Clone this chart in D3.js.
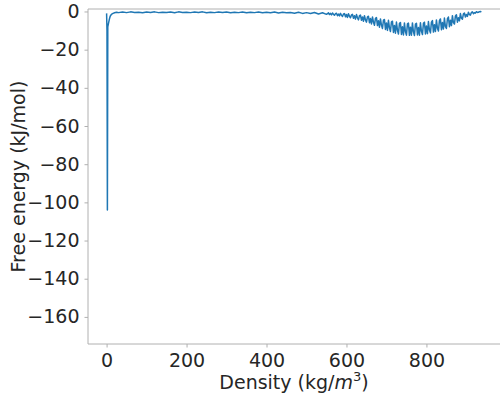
<!DOCTYPE html>
<html>
<head>
<meta charset="utf-8">
<script src="https://cdn.jsdelivr.net/npm/d3@7"></script>
<style>
body{margin:0;background:#fff;}
svg text{font-family:"DejaVu Sans",sans-serif;fill:#262626;}
</style>
</head>
<body>
<div id="chart"></div>
<script>
// density (kg/m3) and free energy (kJ/mol)
var density=[0,1,2,3,5,7,9,12,16,20,25,30,
	40,50,60,70,80,90,100,110,120,130,140,150,160,170,180,190,200,210,220,230,240,250,
	260,270,280,290,300,310,320,330,340,350,360,370,380,390,400,410,420,430,440,450,
	460,470,480,490,500,510,520,530,540,550,
	555,557.5,560,562.5,565,567.5,570,572.5,575,577.5,580,582.5,585,587.5,590,592.5,595,597.5,
	600,602.5,605,607.5,610,612.5,615,617.5,620,622.5,625,627.5,630,632.5,635,637.5,640,642.5,645,647.5,
	650,652.5,655,657.5,660,662.5,665,667.5,670,672.5,675,677.5,680,682.5,685,687.5,690,692.5,695,697.5,
	700,702.5,705,707.5,710,712.5,715,717.5,720,722.5,725,727.5,730,732.5,735,737.5,740,742.5,745,747.5,
	750,752.5,755,757.5,760,762.5,765,767.5,770,772.5,775,777.5,780,782.5,785,787.5,790,792.5,795,797.5,
	800,802.5,805,807.5,810,812.5,815,817.5,820,822.5,825,827.5,830,832.5,835,837.5,840,842.5,845,847.5,
	850,852.5,855,857.5,860,862.5,865,867.5,870,872.5,875,877.5,880,882.5,885,887.5,890,892.5,895,897.5,
	900,902.5,905,907.5,910,912.5,915,917.5,920,922.5,925,927.5,930,932.5,935,937.5];
var freeEnergy=[-1,-10,-104,-8,-6,-4,-2.5,-1.5,-1,-0.7,-0.4,-0.6,
	-0.3,-0.6,-0.2,-0.5,-0.4,-0.7,-0.3,-0.5,-0.2,-0.6,-0.4,-0.5,-0.3,-0.7,-0.2,-0.5,-0.4,-0.6,-0.3,-0.5,-0.2,-0.7,
	-0.4,-0.6,-0.3,-0.5,-0.3,-0.7,-0.4,-0.6,-0.3,-0.7,-0.4,-0.6,-0.3,-0.7,-0.4,-0.7,-0.3,-0.8,-0.4,-0.7,
	-0.5,-0.9,-0.4,-1.0,-0.6,-1.1,-0.5,-1.3,-0.7,-1.5,
	-0.7,-1.6,-1.0,-1.8,-0.8,-1.5,-2.0,-1.1,-0.9,-2.2,-1.4,-2.3,-1.0,-1.9,-2.6,-1.3,-1.1,-2.8,
	-1.6,-3.1,-1.2,-2.5,-3.3,-1.8,-1.5,-3.6,-2.2,-4.0,-1.6,-3.3,-4.4,-2.2,-1.9,-4.6,-2.9,-5.1,-2.2,-4.4,
	-5.6,-2.8,-2.5,-5.9,-3.7,-6.5,-2.9,-5.6,-7.2,-3.6,-3.2,-7.4,-4.8,-8.2,-3.9,-7.1,-8.9,-4.5,-4.2,-9.4,
	-6.0,-9.9,-4.6,-8.6,-10.5,-5.4,-5.1,-11.0,-7.3,-11.4,-5.5,-9.9,-11.8,-6.2,-5.8,-12.0,-8.0,-12.3,-6.0,-10.6,
	-12.4,-6.5,-6.1,-12.5,-8.2,-12.4,-6.0,-10.7,-12.6,-6.6,-6.2,-12.3,-8.4,-12.4,-5.9,-10.4,-12.1,-6.2,-5.6,-11.8,
	-7.6,-11.6,-5.3,-9.7,-11.2,-5.6,-4.8,-10.8,-6.9,-10.5,-4.4,-8.8,-10.2,-4.8,-3.9,-9.6,-5.8,-9.2,-3.4,-7.9,
	-8.9,-3.8,-2.9,-8.0,-4.6,-7.4,-2.2,-5.8,-6.6,-2.3,-1.7,-5.6,-3.3,-4.9,-1.1,-3.5,-4.0,-1.2,-0.8,-2.9,
	-1.6,-2.6,-0.4,-1.6,-1.9,-0.5,-0.2,-1.2,-0.6,-0.9,-0.1,-0.5,-0.4,-0.1,0.0,-0.2];
var xTicks=[0,200,400,600,800];
var yTicks=[0,-20,-40,-60,-80,-100,-120,-140,-160];

var W=501,H=400;
var mLeft=88,mRight=500,mTop=9,mBottom=344;

var svg=d3.select("#chart").append("svg").attr("width",W).attr("height",H);

var x=d3.scaleLinear().domain([-46.5,984]).range([mLeft,mRight]);
var y=d3.scaleLinear().domain([-174.2,1.3]).range([mBottom,mTop]);

var pts=density.map(function(d,i){return [d,freeEnergy[i]];});

svg.append("path").datum(pts)
	.attr("fill","none").attr("stroke","#1f77b4").attr("stroke-width",1.5)
	.attr("stroke-linejoin","round")
	.attr("d",d3.line().x(function(d){return x(d[0]);}).y(function(d){return y(d[1]);}));

// spines
var spine="#b0b0b0";
svg.append("line").attr("x1",mLeft).attr("x2",mLeft).attr("y1",mTop).attr("y2",mBottom).attr("stroke",spine);
svg.append("line").attr("x1",mLeft).attr("x2",mRight).attr("y1",mBottom).attr("y2",mBottom).attr("stroke",spine);
svg.append("line").attr("x1",mLeft).attr("x2",mRight).attr("y1",mTop).attr("y2",mTop).attr("stroke",spine);

function fmt(v){return v<0?"\u2212"+Math.abs(v):String(v);}

var xAxis=svg.append("g").attr("transform","translate(0,"+mBottom+")")
	.call(d3.axisBottom(x).tickValues(xTicks).tickSize(3.5).tickPadding(6).tickFormat(fmt));
var yAxis=svg.append("g").attr("transform","translate("+mLeft+",0)")
	.call(d3.axisLeft(y).tickValues(yTicks).tickSize(3.5).tickPadding(5).tickFormat(fmt));
[xAxis,yAxis].forEach(function(a){
	a.select(".domain").remove();
	a.selectAll(".tick line").attr("stroke",spine);
	a.selectAll("text").attr("font-size",19).attr("font-family","DejaVu Sans").attr("fill","#262626");
});

var xl=svg.append("text").attr("x",(mLeft+mRight)/2).attr("y",389).attr("text-anchor","middle").attr("font-size",19);
xl.append("tspan").text("Density (kg/");
xl.append("tspan").attr("font-style","italic").text("m");
xl.append("tspan").attr("font-size",13).attr("dy",-8).text("3");
xl.append("tspan").attr("dy",8).text(")");

svg.append("text").attr("transform","translate(25,"+((mTop+mBottom)/2)+") rotate(-90)")
	.attr("text-anchor","middle").attr("font-size",19).text("Free energy (kJ/mol)");
</script>
</body>
</html>
